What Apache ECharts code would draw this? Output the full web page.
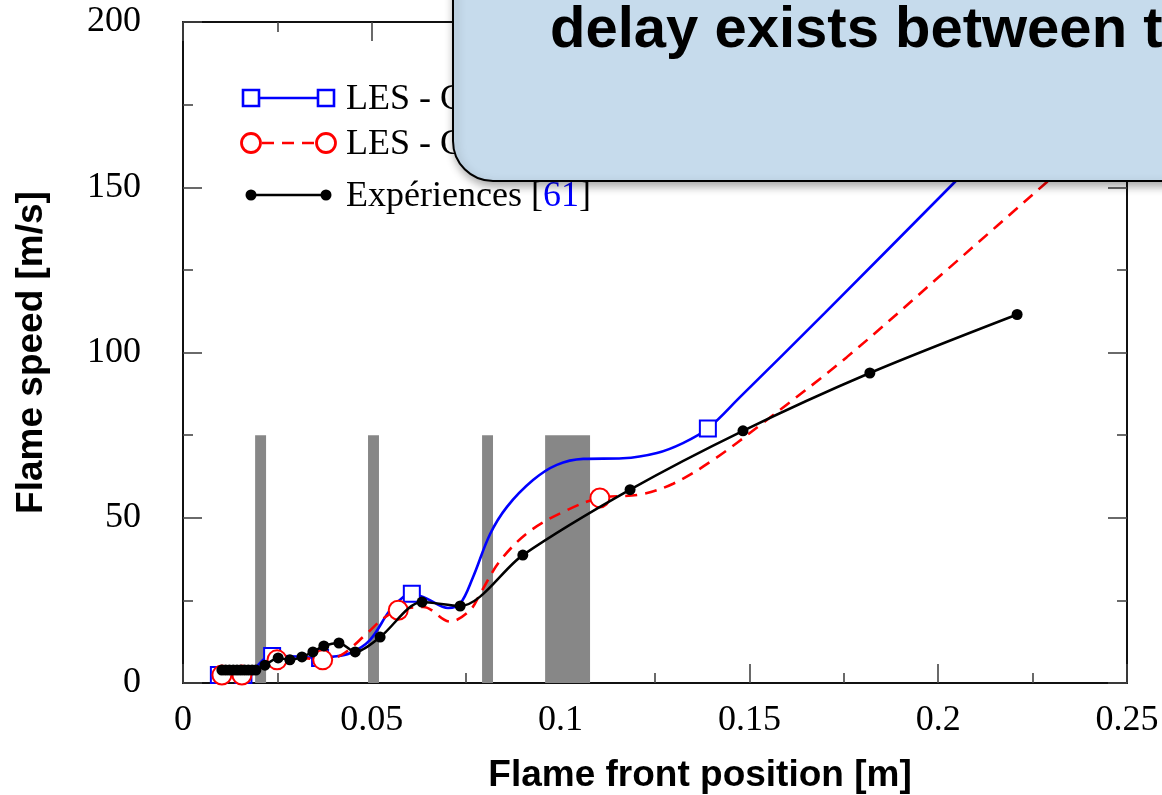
<!DOCTYPE html>
<html>
<head>
<meta charset="utf-8">
<script src="https://cdn.jsdelivr.net/npm/echarts@6/dist/echarts.min.js"></script>
<style>
html,body{margin:0;padding:0;background:#fff;}
#chart{width:1162px;height:795px;}
</style>
</head>
<body>
<div id="chart"></div>
<script>
// ---- Data ----
var xTickLabels = ['0', '0.05', '0.1', '0.15', '0.2', '0.25'];
var yTickLabels = ['0', '50', '100', '150', '200'];

// LES - C (blue, squares)
var blueX = [0.0095, 0.016, 0.0236, 0.030, 0.0363, 0.0395, 0.0442, 0.0495, 0.0548, 0.0588, 0.0606, 0.0646, 0.0702, 0.0734, 0.0768, 0.0813, 0.0858, 0.0927, 0.099, 0.106, 0.1165, 0.1255, 0.1324, 0.139, 0.1475, 0.170, 0.2044, 0.222];
var blueY = [2.4, 2.4, 8.2, 8.0, 7.6, 7.9, 9.0, 13, 22, 26.5, 27, 25.5, 22.7, 24, 32, 45, 53.3, 61.4, 66, 67.8, 68, 69.6, 72.6, 77, 86.5, 112, 151.6, 172];
var blueMarkers = [0, 1, 2, 4, 10, 23];

// LES - C (red, dashed, circles)
var redX = [0.0103, 0.0156, 0.0249, 0.031, 0.037, 0.042, 0.0487, 0.053, 0.057, 0.0636, 0.0707, 0.076, 0.0787, 0.084, 0.0919, 0.1017, 0.1104, 0.121, 0.1298, 0.1404, 0.1536, 0.1758, 0.2023, 0.2288, 0.240];
var redY = [2.4, 2.4, 7.0, 7.6, 7.0, 8.5, 15, 19.5, 22, 23, 18.6, 22, 27, 37, 46, 52.3, 56, 57, 60.3, 67.5, 78.7, 98.6, 125, 151.6, 163];
var redMarkers = [0, 1, 2, 4, 8, 16];

// Expériences [61] (black dots)
var expX = [0.0103, 0.0113, 0.0123, 0.0133, 0.0143, 0.0153, 0.0163, 0.0173, 0.0183, 0.0193, 0.0217, 0.0252, 0.0283, 0.0315, 0.0344, 0.0373, 0.0413, 0.0456, 0.0522, 0.0633, 0.0734, 0.090, 0.1184, 0.1483, 0.1819, 0.2209];
var expY = [3.9, 3.9, 3.9, 3.9, 3.9, 3.9, 3.9, 3.9, 3.9, 3.9, 5.4, 7.6, 7.0, 7.9, 9.4, 11.2, 12.1, 9.4, 13.9, 24.5, 23.3, 38.7, 58.5, 76.3, 93.8, 111.5];

// obstacles (grey bands): [start, end] in m, height in m/s
var obstacleStart = [0.0191, 0.0490, 0.0792, 0.0959];
var obstacleEnd = [0.0220, 0.0519, 0.0821, 0.1078];
var obstacleHeight = 75;

var legendLabels = ['LES - C', 'LES - C', 'Expériences [61]'];
var calloutText = 'delay exists between t';

// ---- Build ----
function buildLine(xs, ys, markers) {
  return xs.map(function (x, i) {
    var item = { value: [x, ys[i]] };
    if (markers.indexOf(i) < 0) item.symbol = 'none';
    return item;
  });
}
function pairs(xs, ys) { return xs.map(function (x, i) { return [x, ys[i]]; }); }

var bands = obstacleStart.map(function (s, i) {
  return [{ coord: [s, 0] }, { coord: [obstacleEnd[i], obstacleHeight] }];
});

var tickStyle = { color: '#444', width: 1.6 };
function mkX(pos, show) {
  return {
    type: 'value', min: 0, max: 0.25, interval: 0.05, position: pos,
    axisLine: { show: true, onZero: false, lineStyle: { color: '#111', width: 2 } },
    axisTick: { show: true, inside: true, length: 19, lineStyle: tickStyle },
    minorTick: { show: true, splitNumber: 2, length: 10, lineStyle: tickStyle },
    splitLine: { show: false },
    axisLabel: show ? {
      fontFamily: 'Liberation Serif', fontSize: 36, color: '#000', margin: 20,
      formatter: function (v) { return xTickLabels[Math.round(v / 0.05)]; }
    } : { show: false }
  };
}
function mkY(pos, show) {
  return {
    type: 'value', min: 0, max: 200, interval: 50, position: pos,
    axisLine: { show: true, onZero: false, lineStyle: { color: '#111', width: 2 } },
    axisTick: { show: true, inside: true, length: 19, lineStyle: tickStyle },
    minorTick: { show: true, splitNumber: 2, length: 10, lineStyle: tickStyle },
    splitLine: { show: false },
    axisLabel: show ? {
      fontFamily: 'Liberation Serif', fontSize: 36, color: '#000', margin: 42,
      padding: [6, 0, 0, 0],
      formatter: function (v) { return yTickLabels[Math.round(v / 50)]; }
    } : { show: false }
  };
}

var xb = mkX('bottom', true);
xb.name = 'Flame front position [m]';
xb.nameLocation = 'middle';
xb.nameGap = 74;
xb.nameTextStyle = { fontFamily: 'Liberation Sans', fontWeight: 'bold', fontSize: 37, color: '#000', padding: [0, 0, 0, 90] };
var yl = mkY('left', true);
yl.name = 'Flame speed [m/s]';
yl.nameLocation = 'middle';
yl.nameGap = 133;
yl.nameTextStyle = { fontFamily: 'Liberation Sans', fontWeight: 'bold', fontSize: 37, color: '#000' };

var serif = '"Liberation Serif", "Times New Roman", serif';

var option = {
  animation: false,
  backgroundColor: '#fff',
  grid: { left: 183, top: 22, right: 35, bottom: 112, containLabel: false, outerBoundsMode: 'none' },
  xAxis: [xb, mkX('top', false)],
  yAxis: [yl, mkY('right', false)],
  series: [
    {
      type: 'line', data: [], z: 1, silent: true,
      markArea: { silent: true, itemStyle: { color: '#878787' }, data: bands }
    },
    {
      name: 'blue', type: 'line', z: 3, smooth: 0.35, showSymbol: true, showAllSymbol: true,
      symbol: 'emptyRect', symbolSize: 16,
      lineStyle: { color: '#0000ff', width: 2.6 },
      itemStyle: { color: '#0000ff', borderWidth: 2.6 },
      data: buildLine(blueX, blueY, blueMarkers)
    },
    {
      name: 'red', type: 'line', z: 4, smooth: 0.35, showSymbol: true, showAllSymbol: true,
      symbol: 'emptyCircle', symbolSize: 19,
      lineStyle: { color: '#ff0000', width: 2.6, type: [12, 8] },
      itemStyle: { color: '#ff0000', borderWidth: 2.8 },
      data: buildLine(redX, redY, redMarkers)
    },
    {
      name: 'exp', type: 'line', z: 5, smooth: 0.3, showSymbol: true, showAllSymbol: true,
      symbol: 'circle', symbolSize: 11,
      lineStyle: { color: '#000', width: 2.5 },
      itemStyle: { color: '#000' },
      data: pairs(expX, expY)
    }
  ],
  graphic: [
    // legend row 1
    { type: 'line', z: 50, shape: { x1: 259, y1: 98, x2: 318, y2: 98 }, style: { stroke: '#0000ff', lineWidth: 2.6 } },
    { type: 'rect', z: 51, shape: { x: 243, y: 90, width: 16, height: 16 }, style: { fill: '#fff', stroke: '#0000ff', lineWidth: 2.6 } },
    { type: 'rect', z: 51, shape: { x: 318, y: 90, width: 16, height: 16 }, style: { fill: '#fff', stroke: '#0000ff', lineWidth: 2.6 } },
    { type: 'text', z: 51, x: 346, y: 100, style: { text: legendLabels[0], font: '36px ' + serif, fill: '#000', verticalAlign: 'middle' } },
    // legend row 2
    { type: 'line', z: 50, shape: { x1: 262, y1: 143, x2: 316, y2: 143 }, style: { stroke: '#ff0000', lineWidth: 2.6, lineDash: [12, 8] } },
    { type: 'circle', z: 51, shape: { cx: 251, cy: 143, r: 9.5 }, style: { fill: '#fff', stroke: '#ff0000', lineWidth: 2.8 } },
    { type: 'circle', z: 51, shape: { cx: 326, cy: 143, r: 9.5 }, style: { fill: '#fff', stroke: '#ff0000', lineWidth: 2.8 } },
    { type: 'text', z: 51, x: 346, y: 145, style: { text: legendLabels[1], font: '36px ' + serif, fill: '#000', verticalAlign: 'middle' } },
    // legend row 3
    { type: 'line', z: 50, shape: { x1: 251, y1: 195, x2: 326, y2: 195 }, style: { stroke: '#000', lineWidth: 2.5 } },
    { type: 'circle', z: 51, shape: { cx: 251, cy: 195, r: 5.5 }, style: { fill: '#000' } },
    { type: 'circle', z: 51, shape: { cx: 326, cy: 195, r: 5.5 }, style: { fill: '#000' } },
    { type: 'text', z: 51, x: 346, y: 197, style: {
        text: '{a|Expériences [}{b|61}{a|]}', verticalAlign: 'middle',
        rich: { a: { font: '36px ' + serif, fill: '#000' }, b: { font: '36px ' + serif, fill: '#0000ff' } }
      } },
    // callout box
    { type: 'rect', z: 100, shape: { x: 453, y: -60, width: 780, height: 241, r: 40 },
      style: { fill: '#c6dbec', stroke: '#000', lineWidth: 2, shadowBlur: 10, shadowOffsetX: 2, shadowOffsetY: 4, shadowColor: 'rgba(0,0,0,0.35)' } },
    { type: 'text', z: 101, x: 550, y: 31, style: { text: calloutText, font: 'bold 58px "Liberation Sans", Arial, sans-serif', fill: '#000', verticalAlign: 'middle' } }
  ]
};

var chart = echarts.init(document.getElementById('chart'), null, { renderer: 'canvas' });
chart.setOption(option);
</script>
</body>
</html>
